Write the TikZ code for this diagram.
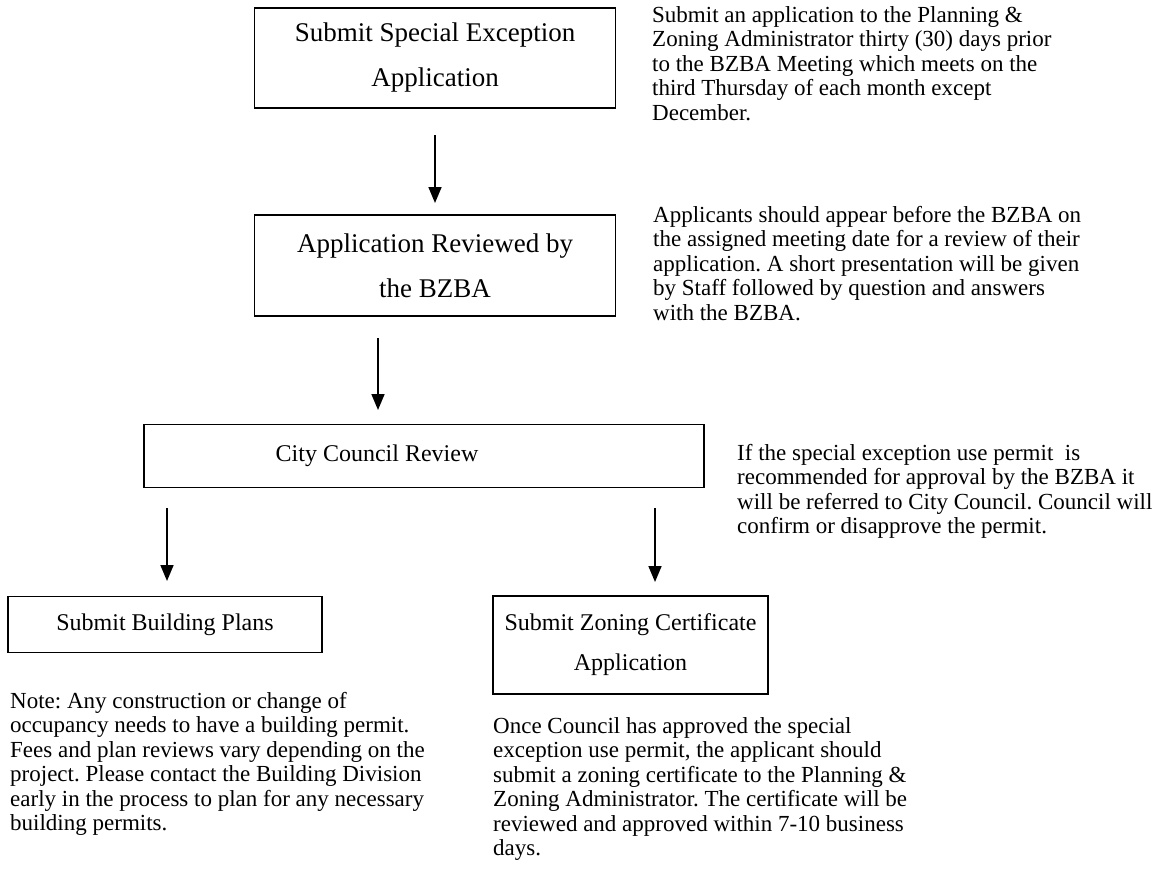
\documentclass[tikz,border=0pt]{standalone}
\usepackage{fontspec}
\setmainfont{Liberation Serif}
\usetikzlibrary{arrows.meta}
\frenchspacing
\begin{document}
\begin{tikzpicture}[x=1pt,y=-1pt,
  box/.style={draw,line width=1.7pt,inner sep=0pt,align=center},
  bigt/.style={font=\fontsize{27}{45}\selectfont},
  smallt/.style={font=\fontsize{24}{40}\selectfont},
  note/.style={anchor=north west,inner sep=0pt,align=left,font=\fontsize{23}{24.5}\selectfont},
  arr/.style={line width=1.7pt,-{Triangle[width=13pt,length=16pt]}}]
\useasboundingbox (0,0) rectangle (1155,876);
\node[box,bigt,minimum width=361,minimum height=100] (b1) at (435,58) {Submit Special Exception\\Application};
\node[box,bigt,minimum width=361,minimum height=101] (b2) at (435,265.5) {Application Reviewed by\\the BZBA};
\node[box,minimum width=560,minimum height=63] (b3) at (424,456) {};
\node[smallt,inner sep=0pt] (b3t) at (377,456) {City Council Review};
\node[box,smallt,minimum width=314,minimum height=56] (b4) at (165,624.5) {Submit Building Plans};
\node[box,smallt,minimum width=275,minimum height=98] (b5) at (630.5,645) {Submit Zoning Certificate\\Application};
\node[note] (t1) at (652,6) {Submit an application to the Planning \&\\Zoning Administrator thirty (30) days prior\\to the BZBA Meeting which meets on the\\third Thursday of each month except\\December.};
\node[note] (t2) at (653,206) {Applicants should appear before the BZBA on\\the assigned meeting date for a review of their\\application. A short presentation will be given\\by Staff followed by question and answers\\with the BZBA.};
\node[note] (t3) at (737,444) {If the special exception use permit\ \ is\\recommended for approval by the BZBA it\\will be referred to City Council. Council will\\confirm or disapprove the permit.};
\node[note] (t4) at (10,692) {Note: Any construction or change of\\occupancy needs to have a building permit.\\Fees and plan reviews vary depending on the\\project. Please contact the Building Division\\early in the process to plan for any necessary\\building permits.};
\node[note] (t5) at (493,717) {Once Council has approved the special\\exception use permit, the applicant should\\submit a zoning certificate to the Planning \&\\Zoning Administrator. The certificate will be\\reviewed and approved within 7-10 business\\days.};
\draw[arr] (b1.south |- 0,135) -- (b2.north |- 0,203);
\coordinate (a2s) at (378,338);
\coordinate (a2e) at (378,410);
\draw[arr] (a2s) -- (a2e);
\coordinate (a3s) at (167,508);
\coordinate (a3e) at (167,581);
\draw[arr] (a3s) -- (a3e);
\coordinate (a4s) at (655,508);
\coordinate (a4e) at (655,582);
\draw[arr] (a4s) -- (a4e);
\end{tikzpicture}
\end{document}
